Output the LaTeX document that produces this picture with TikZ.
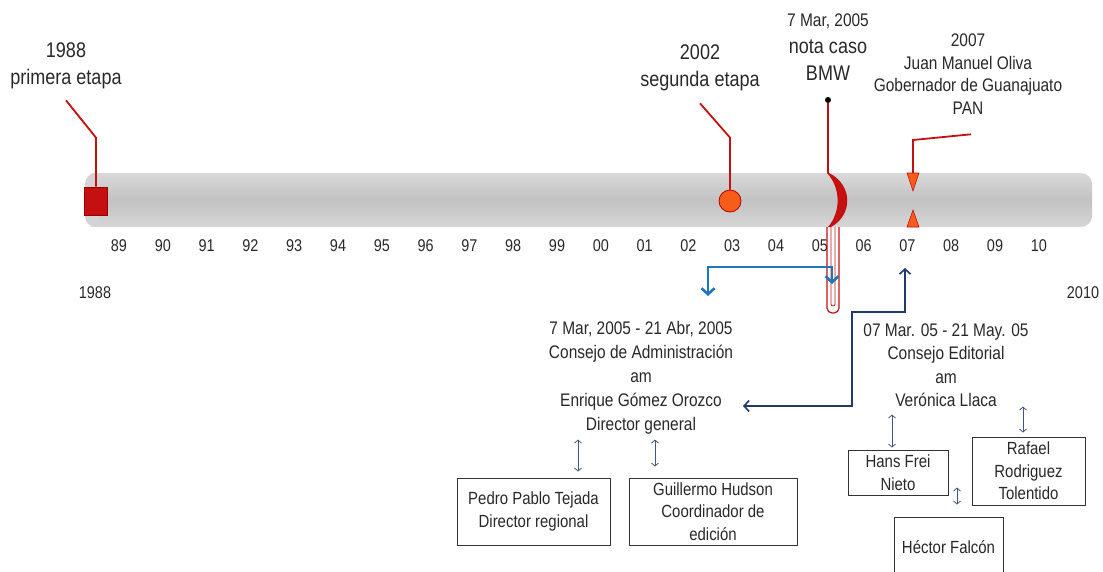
\documentclass[tikz,border=0pt]{standalone}
\usepackage{fontspec}
\setmainfont{Liberation Sans}[FakeStretch=0.85]
\usetikzlibrary{positioning,calc,arrows.meta,shapes.geometric}
\definecolor{mkred}{RGB}{196,16,16}
\definecolor{mkorange}{RGB}{248,92,26}
\definecolor{lblue}{RGB}{30,118,190}
\definecolor{navy}{RGB}{32,58,112}
\definecolor{txtgray}{RGB}{40,40,40}

\begin{document}
\begin{tikzpicture}[x=1pt,y=-1pt,
      txt/.style={align=center,text=txtgray,inner sep=0pt},
      toplabel/.style={txt,font=\fontsize{21.2}{27}\selectfont},
      midlabel/.style={txt,font=\fontsize{18.2}{23.5}\selectfont},
      yearlabel/.style={txt,font=\fontsize{17}{19}\selectfont},
      box/.style={rectangle,draw=black!80,line width=0.9pt,align=center,text=txtgray,inner sep=0pt,font=\fontsize{17.6}{22.5}\selectfont},
      tube/.style={rectangle,rounded corners=11pt,minimum width=1007pt,minimum height=54pt,top color=gray!30,bottom color=gray!32,middle color=gray!48},
      pin/.style={mkred,line width=1.8pt},
      fatarrow/.style={{Straight Barb[length=6pt,width=13pt]}-{Straight Barb[length=6pt,width=13pt]},lblue,line width=2.6pt},
      thinarrow/.style={{Straight Barb[length=5pt,width=11pt]}-{Straight Barb[length=5pt,width=11pt]},navy,line width=1.6pt},
      dblarrow/.style={{Straight Barb[length=3pt,width=7pt]}-{Straight Barb[length=3pt,width=7pt]},navy!85,line width=0.8pt}
      ]
      \useasboundingbox (0,0) rectangle (1103,571);
      \clip (0,0) rectangle (1103,571);

      % time bar
      \node[tube] (bar) at (588.5,200) {};
      \fill[gray!34] (93,200) ellipse (8 and 27);

      \foreach \yr [count=\i from 0] in {89,90,91,92,93,94,95,96,97,98,99,00,01,02,03,04,05,06,07,08,09,10}
        \node[yearlabel] (y\yr) at ({119+43.8*\i},246) {\yr};
      \node[yearlabel] (from88) at (95,293) {1988};
      \node[yearlabel] (to10) at (1083,293) {2010};

      % 1988
      \node[rectangle,fill=mkred,draw=red!60!black,line width=0.6pt,minimum width=23pt,minimum height=28pt] (m88) at (96,201) {};
      \node[toplabel] (l88) at (66,66) {1988\\primera etapa};
      \draw[pin] (m88.north) -- ++(0,-49) -- ([yshift=-11pt]l88.south);

      % 2002
      \node[circle,fill=mkorange,draw=red!70!black,line width=0.8pt,minimum size=22pt,inner sep=0pt] (m02) at (730,201) {};
      \node[toplabel] (l02) at (700,68) {2002\\segunda etapa};
      \draw[pin] (m02.north) -- ++(0,-52) -- ([yshift=-12pt]l02.south);

      % 2005
      \node[toplabel] (lbmw) at (828,47) {{\fontsize{18.2}{20}\selectfont 7 Mar, 2005}\\nota caso\\BMW};
      \node[circle,fill=black,inner sep=0pt,minimum size=6pt] (dot) at (828,100) {};
      \coordinate (bmw) at (828,173);
      \draw[mkred,line width=1.3pt] (dot) -- (bmw);
      \fill[mkred] (829,173) .. controls (853,185) and (853,215) .. (831,227) -- (828,227) .. controls (841,212) and (841,188) .. (827,173) -- cycle;
      \draw[mkred,line width=1.2pt,rounded corners=5pt] (827,227) -- (827,313) -- (839,313) -- (839,227);
      \draw[mkred,line width=0.7pt,rounded corners=2pt] (831,227) -- (831,306) -- (835,306) -- (835,227);

      % 2007
      \coordinate (m07) at (913,173);
      \filldraw[fill=mkorange,draw=mkred,line width=0.6pt] (907,173) -- (919,173) -- (913,191) -- cycle;
      \filldraw[fill=mkorange,draw=mkred,line width=0.6pt] (907,227) -- (919,227) -- (913,210) -- cycle;
      \node[midlabel,font=\fontsize{18.2}{22.5}\selectfont] (l07) at (968,74) {2007\\Juan Manuel Oliva\\Gobernador de Guanajuato\\PAN};
      \draw[pin] (m07) -- ++(0,-33) -- ([xshift=3pt,yshift=-20pt]l07.south);

      % consejos
      \coordinate (bl) at (708,296);
      \coordinate (br) at (832,284);
      \draw[fatarrow] (bl) -- ++(0,-29) -| (br);

      \node[midlabel,font=\fontsize{18.2}{24}\selectfont] (cadm) at (641,378) {7 Mar, 2005 - 21 Abr, 2005\\Consejo de Administración\\am\\Enrique Gómez Orozco\\Director general};
      \node[midlabel] (cedit) at (946,365) {07 Mar. 05 - 21 May. 05\\Consejo Editorial\\am\\Verónica Llaca};

      \coordinate (nu) at (905,268);
      \coordinate (nl) at (743,406);
      \draw[thinarrow] (nu) |- (852,312) |- (nl);

      \node[box,minimum width=153pt,minimum height=67pt] (pedro) at (533.5,511.5) {Pedro Pablo Tejada\\Director regional};
      \node[box,minimum width=168pt,minimum height=67pt] (guillermo) at (713,511.5) {Guillermo Hudson\\Coordinador de\\edición};
      \node[box,minimum width=100pt,minimum height=45pt] (hans) at (898,472.5) {Hans Frei\\Nieto};
      \node[box,minimum width=113pt,minimum height=68pt] (rafael) at (1028.5,471) {Rafael\\Rodriguez\\Tolentido};
      \node[box,minimum width=109pt,minimum height=60pt] (hector) at (948.5,547) {Héctor Falcón};

      \draw[dblarrow] ([xshift=44.5pt,yshift=38pt]pedro.north) -- ([xshift=44.5pt,yshift=6pt]pedro.north);
      \draw[dblarrow] ([xshift=-58pt,yshift=38pt]guillermo.north) -- ([xshift=-58pt,yshift=11pt]guillermo.north);
      \draw[dblarrow] ([xshift=-6pt,yshift=35pt]hans.north) -- ([xshift=-6pt,yshift=2pt]hans.north);
      \draw[dblarrow] ([xshift=-5.5pt,yshift=30pt]rafael.north) -- ([xshift=-5.5pt,yshift=4pt]rafael.north);
      \draw[dblarrow] ([xshift=8.5pt,yshift=29pt]hector.north) -- ([xshift=8.5pt,yshift=12pt]hector.north);

    \end{tikzpicture}
\end{document}
